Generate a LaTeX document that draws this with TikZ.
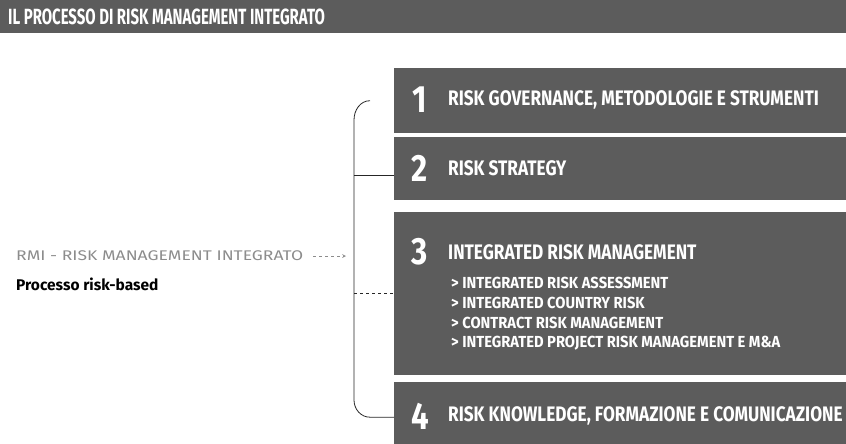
\documentclass[tikz,border=0pt]{standalone}
\usepackage{fontspec}
\setmainfont{Fira Sans}
\newfontfamily\condfont[FakeStretch=0.82]{Fira Sans}
\newfontfamily\titlefont[FakeStretch=0.68]{Fira Sans}
\newfontfamily\itemfont[FakeStretch=0.92]{Fira Sans}
\newfontfamily\widefont[FakeStretch=1.25]{Fira Sans}
\usetikzlibrary{positioning,arrows.meta}
\definecolor{bandgray}{HTML}{5C5C5C}
\definecolor{textgray}{HTML}{8C8C8C}

\begin{document}
\begin{tikzpicture}[x=1pt,y=-1pt,>=stealth,
	band/.style={fill=bandgray, draw=none, anchor=north west,%
		inner sep=0pt, minimum width=470pt},
	num/.style={text=white, anchor=west, inner sep=0pt,%
		font=\condfont\bfseries\fontsize{38}{38}\selectfont},
	head/.style={text=white, anchor=west, inner sep=0pt,%
		font=\condfont\bfseries\fontsize{21}{21}\selectfont},
	item/.style={text=white, anchor=west, inner sep=0pt,%
		font=\itemfont\bfseries\fontsize{16}{16}\selectfont},
	bracket/.style={draw=black!85, line width=0.8pt}]
	\useasboundingbox (0,0) rectangle (846,444);
	\clip (0,0) rectangle (846,444);
	
	% title bar
	\node[band, minimum width=846pt, minimum height=33pt] (title) at (0,0) {};
	\node[head, font=\titlefont\bfseries\fontsize{22}{22}\selectfont] (ttl) at (8,17)
		{IL PROCESSO DI RISK MANAGEMENT INTEGRATO};
	
	% the four bands
	\node[band, minimum height=65pt] (b1) at (394,68) {};
	\node[band, minimum height=63pt] (b2) at (394,137) {};
	\node[band, minimum height=163pt] (b3) at (394,212) {};
	\node[band, minimum height=70pt] (b4) at (394,382) {};
	
	\node[num] (n1) at (412,100) {1};
	\node[head] (h1) at (448,100) {RISK GOVERNANCE, METODOLOGIE E STRUMENTI};
	\node[num] (n2) at (411,168) {2};
	\node[head] (h2) at (448,168) {RISK STRATEGY};
	\node[num] (n3) at (411,252) {3};
	\node[head] (h3) at (448,252) {INTEGRATED RISK MANAGEMENT};
	\node[item] (i1) at (451,283) {> INTEGRATED RISK ASSESSMENT};
	\node[item] (i2) at (451,303) {> INTEGRATED COUNTRY RISK};
	\node[item] (i3) at (451,323) {> CONTRACT RISK MANAGEMENT};
	\node[item] (i4) at (451,343) {> INTEGRATED PROJECT RISK MANAGEMENT E M\&A};
	\node[num] (n4) at (411,416) {4};
	\node[head] (h4) at (448,416) {RISK KNOWLEDGE, FORMAZIONE E COMUNICAZIONE};
	
	% left side
	\node[anchor=west, inner sep=0pt, text=textgray,%
		font=\widefont\fontsize{14}{14}\selectfont] (rmi) at (16,256)
		{RMI - RISK MANAGEMENT INTEGRATO};
	\node[anchor=west, inner sep=0pt,%
		font=\bfseries\fontsize{15.5}{15.5}\selectfont] (proc) at (16,284)
		{Processo risk-based};
	\coordinate (tip) at (346,256);
	\draw[->, dashed, textgray, line width=0.7pt] ([xshift=10pt]rmi.east) -- (tip);
	
	% bracket
	\coordinate (top) at (354,120);
	\coordinate (bot) at (354,400);
	\coordinate (t2) at ([yshift=-7pt]b2.west);
	\draw[bracket] ([xshift=-24pt]b1.west) to[out=180,in=90] (top) -- (bot)
		to[out=-90,in=180] ([xshift=-24pt]b4.west) -- (b4.west);
	\draw[bracket] (t2 -| top) -- (t2);
	\draw[bracket, dashed] (b3.west -| top) -- (b3.west);
\end{tikzpicture}
\end{document}
